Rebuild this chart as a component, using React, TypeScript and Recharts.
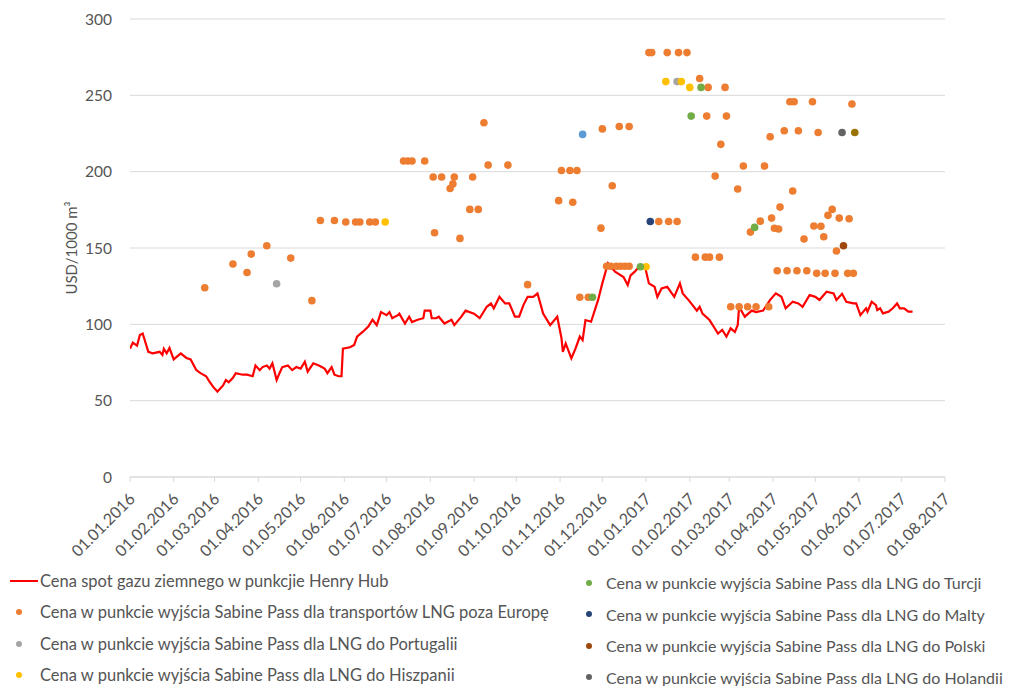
import React from "react";
import { ComposedChart, Line, Scatter, XAxis, YAxis, CartesianGrid } from "recharts";

const FONT = "Lato, 'Open Sans', sans-serif";
const TEXT = "#555555";

const monthTicks = [
  "01.01.2016", "01.02.2016", "01.03.2016", "01.04.2016", "01.05.2016", "01.06.2016",
  "01.07.2016", "01.08.2016", "01.09.2016", "01.10.2016", "01.11.2016", "01.12.2016",
  "01.01.2017", "01.02.2017", "01.03.2017", "01.04.2017", "01.05.2017", "01.06.2017",
  "01.07.2017", "01.08.2017",
];
const yTicks = [0, 50, 100, 150, 200, 250, 300];

// Henry Hub spot price, USD/1000 m3
const henryHub: [string, number][] = [
  ["01.01.2016", 84], ["03.01.2016", 88], ["06.01.2016", 86], ["08.01.2016", 93], ["10.01.2016", 94],
  ["14.01.2016", 82], ["17.01.2016", 81], ["22.01.2016", 82], ["24.01.2016", 80], ["25.01.2016", 84],
  ["27.01.2016", 81], ["29.01.2016", 84.5], ["01.02.2016", 77], ["06.02.2016", 81], ["10.02.2016", 78],
  ["13.02.2016", 77], ["17.02.2016", 70], ["20.02.2016", 68], ["24.02.2016", 66], ["26.02.2016", 63],
  ["29.02.2016", 59], ["03.03.2016", 56], ["07.03.2016", 60], ["09.03.2016", 63.5], ["11.03.2016", 62],
  ["14.03.2016", 65], ["16.03.2016", 68], ["21.03.2016", 67], ["24.03.2016", 67], ["28.03.2016", 66],
  ["30.03.2016", 73], ["02.04.2016", 70], ["04.04.2016", 72], ["07.04.2016", 73], ["09.04.2016", 71],
  ["11.04.2016", 74.5], ["14.04.2016", 63.5], ["16.04.2016", 68], ["18.04.2016", 72], ["22.04.2016", 73],
  ["25.04.2016", 70], ["28.04.2016", 72], ["01.05.2016", 71], ["04.05.2016", 75.5], ["06.05.2016", 69],
  ["10.05.2016", 74.5], ["14.05.2016", 73], ["18.05.2016", 71], ["20.05.2016", 68], ["23.05.2016", 72],
  ["25.05.2016", 67], ["28.05.2016", 66], ["30.05.2016", 66], ["31.05.2016", 84], ["05.06.2016", 85],
  ["08.06.2016", 86.5], ["10.06.2016", 92], ["14.06.2016", 95], ["18.06.2016", 98.5], ["21.06.2016", 103],
  ["24.06.2016", 99.5], ["27.06.2016", 108], ["01.07.2016", 106], ["03.07.2016", 108], ["05.07.2016", 104],
  ["09.07.2016", 106], ["10.07.2016", 107], ["14.07.2016", 100.5], ["17.07.2016", 105], ["19.07.2016", 101.5],
  ["23.07.2016", 103], ["27.07.2016", 104], ["28.07.2016", 109], ["01.08.2016", 109], ["02.08.2016", 104],
  ["05.08.2016", 104], ["07.08.2016", 105], ["11.08.2016", 100.5], ["16.08.2016", 103], ["18.08.2016", 99.5],
  ["23.08.2016", 105], ["26.08.2016", 109], ["01.09.2016", 107], ["05.09.2016", 104], ["10.09.2016", 111.5],
  ["13.09.2016", 113.7], ["15.09.2016", 110.5], ["19.09.2016", 118], ["23.09.2016", 113.7], ["26.09.2016", 113.7],
  ["30.09.2016", 105], ["03.10.2016", 105], ["06.10.2016", 112.6], ["09.10.2016", 118], ["13.10.2016", 118],
  ["16.10.2016", 120.3], ["20.10.2016", 107], ["25.10.2016", 99.5], ["30.10.2016", 105], ["02.11.2016", 91],
  ["03.11.2016", 82], ["05.11.2016", 87.5], ["09.11.2016", 77.7], ["12.11.2016", 84.3], ["15.11.2016", 92],
  ["17.11.2016", 89.7], ["19.11.2016", 102.8], ["23.11.2016", 101.7], ["28.11.2016", 116], ["01.12.2016", 127],
  ["05.12.2016", 140], ["10.12.2016", 134.5], ["16.12.2016", 131], ["19.12.2016", 125.7], ["21.12.2016", 132],
  ["24.12.2016", 134.5], ["27.12.2016", 137.7], ["31.12.2016", 138.8], ["03.01.2017", 126.8], ["07.01.2017", 124.6],
  ["09.01.2017", 118], ["12.01.2017", 123.5], ["16.01.2017", 124.6], ["21.01.2017", 118], ["25.01.2017", 126.8],
  ["27.01.2017", 120.3], ["31.01.2017", 116], ["02.02.2017", 113.7], ["06.02.2017", 109], ["08.02.2017", 111.5],
  ["10.02.2017", 107], ["15.02.2017", 102.8], ["18.02.2017", 98.4], ["21.02.2017", 94], ["24.02.2017", 96.3],
  ["27.02.2017", 92], ["02.03.2017", 97.4], ["05.03.2017", 95], ["07.03.2017", 99.5], ["08.03.2017", 111.5],
  ["12.03.2017", 105], ["17.03.2017", 109], ["20.03.2017", 108], ["25.03.2017", 109], ["30.03.2017", 116],
  ["03.04.2017", 120.3], ["07.04.2017", 118], ["10.04.2017", 110.5], ["15.04.2017", 114.8], ["19.04.2017", 113.7],
  ["22.04.2017", 111.5], ["27.04.2017", 119.2], ["01.05.2017", 118], ["04.05.2017", 116], ["09.05.2017", 121.4],
  ["14.05.2017", 120.3], ["16.05.2017", 116], ["20.05.2017", 120], ["23.05.2017", 114.8], ["28.05.2017", 113.7],
  ["30.05.2017", 113.7], ["02.06.2017", 106], ["06.06.2017", 110.5], ["07.06.2017", 108.3], ["10.06.2017", 114.8],
  ["13.06.2017", 112.6], ["14.06.2017", 109.4], ["16.06.2017", 110.5], ["18.06.2017", 107.2], ["22.06.2017", 108.3],
  ["25.06.2017", 110.5], ["28.06.2017", 113.7], ["30.06.2017", 110.5], ["03.07.2017", 110.5], ["06.07.2017", 108.3],
  ["09.07.2017", 108.3],
];

// Sabine Pass exit prices by destination
const outsideEurope: [string, number][] = [
  ["23.02.2016", 124], ["14.03.2016", 139.5], ["24.03.2016", 134], ["27.03.2016", 146], ["07.04.2016", 151.5],
  ["24.04.2016", 143.4], ["09.05.2016", 115.5], ["15.05.2016", 168], ["25.05.2016", 168], ["02.06.2016", 167],
  ["09.06.2016", 167], ["12.06.2016", 167], ["19.06.2016", 167], ["23.06.2016", 167], ["13.07.2016", 207],
  ["16.07.2016", 207], ["19.07.2016", 207], ["28.07.2016", 207], ["03.08.2016", 196.5], ["04.08.2016", 160],
  ["09.08.2016", 196.5], ["15.08.2016", 189], ["17.08.2016", 192], ["18.08.2016", 196.5], ["22.08.2016", 156.3],
  ["29.08.2016", 175.3], ["31.08.2016", 196.5], ["04.09.2016", 175.3], ["08.09.2016", 232], ["11.09.2016", 204.3],
  ["25.09.2016", 204.3], ["09.10.2016", 126], ["31.10.2016", 181], ["02.11.2016", 200.8], ["08.11.2016", 200.8],
  ["10.11.2016", 180], ["13.11.2016", 200.8], ["15.11.2016", 117.7], ["21.11.2016", 117.7], ["30.11.2016", 163],
  ["01.12.2016", 228], ["04.12.2016", 138], ["07.12.2016", 138], ["08.12.2016", 190.8], ["11.12.2016", 138],
  ["13.12.2016", 229.6], ["14.12.2016", 138], ["17.12.2016", 138], ["20.12.2016", 138], ["20.12.2016", 229.6],
  ["03.01.2017", 278], ["05.01.2017", 278], ["10.01.2017", 167.4], ["16.01.2017", 278], ["17.01.2017", 167.4],
  ["23.01.2017", 167.4], ["24.01.2017", 278], ["30.01.2017", 278], ["05.02.2017", 144], ["08.02.2017", 261],
  ["12.02.2017", 144], ["13.02.2017", 236.4], ["14.02.2017", 255.2], ["15.02.2017", 144], ["19.02.2017", 197.1],
  ["22.02.2017", 144], ["23.02.2017", 217.9], ["26.02.2017", 255.2], ["27.02.2017", 236.4], ["02.03.2017", 111.5],
  ["07.03.2017", 188.6], ["08.03.2017", 111.5], ["11.03.2017", 203.7], ["14.03.2017", 111.5], ["16.03.2017", 160.4],
  ["20.03.2017", 111.5], ["23.03.2017", 167.6], ["26.03.2017", 203.7], ["29.03.2017", 111.5], ["30.03.2017", 222.9],
  ["31.03.2017", 169.6], ["02.04.2017", 162.9], ["04.04.2017", 135.1], ["05.04.2017", 162.4], ["06.04.2017", 176.8],
  ["09.04.2017", 226.8], ["11.04.2017", 135.1], ["13.04.2017", 245.8], ["15.04.2017", 187.3], ["16.04.2017", 245.8],
  ["18.04.2017", 135.1], ["19.04.2017", 226.8], ["23.04.2017", 155.9], ["25.04.2017", 135.1], ["29.04.2017", 245.8],
  ["30.04.2017", 164.4], ["02.05.2017", 133.4], ["03.05.2017", 225.7], ["05.05.2017", 164.2], ["07.05.2017", 157.4],
  ["08.05.2017", 133.4], ["10.05.2017", 171.4], ["13.05.2017", 175.3], ["15.05.2017", 133.4], ["16.05.2017", 148],
  ["18.05.2017", 169.6], ["24.05.2017", 133.4], ["25.05.2017", 169.2], ["27.05.2017", 244.3], ["28.05.2017", 133.4],
];
const portugal: [string, number][] = [["14.04.2016", 126.6], ["23.01.2017", 259]];
const spain: [string, number][] = [
  ["30.06.2016", 167], ["01.01.2017", 137.7], ["15.01.2017", 259], ["26.01.2017", 259], ["01.02.2017", 255.2],
];
const unlabelledBlue: [string, number][] = [["17.11.2016", 224.4]];
const turkey: [string, number][] = [
  ["24.11.2016", 117.7], ["28.12.2016", 137.7], ["02.02.2017", 236.4], ["09.02.2017", 255.2], ["19.03.2017", 163.5],
];
const malta: [string, number][] = [["04.01.2017", 167.4]];
const poland: [string, number][] = [["21.05.2017", 151.5]];
const netherlands: [string, number][] = [["20.05.2017", 225.7]];
const unlabelledOlive: [string, number][] = [["29.05.2017", 225.7]];

const toTime = (s: string) => {
  const [d, m, y] = s.split(".").map(Number);
  return Date.UTC(y, m - 1, d);
};
const rows = (list: [string, number][]) => list.map(([d, v]) => ({ t: toTime(d), v }));

type Series = { name: string; color: string; data: [string, number][]; legend: boolean };

const LINE_NAME = "Cena spot gazu ziemnego w punkcjie Henry Hub";
const LINE_COLOR = "#FF0000";

const scatters: Series[] = [
  { name: "Cena w punkcie wyjścia Sabine Pass dla transportów LNG poza Europę", color: "#ED7D31", data: outsideEurope, legend: true },
  { name: "Cena w punkcie wyjścia Sabine Pass dla LNG do Portugalii", color: "#A5A5A5", data: portugal, legend: true },
  { name: "Cena w punkcie wyjścia Sabine Pass dla LNG do Hiszpanii", color: "#FFC000", data: spain, legend: true },
  { name: "blue", color: "#5B9BD5", data: unlabelledBlue, legend: false },
  { name: "Cena w punkcie wyjścia Sabine Pass dla LNG do Turcji", color: "#70AD47", data: turkey, legend: true },
  { name: "Cena w punkcie wyjścia Sabine Pass dla LNG do Malty", color: "#264478", data: malta, legend: true },
  { name: "Cena w punkcie wyjścia Sabine Pass dla LNG do Polski", color: "#9E480E", data: poland, legend: true },
  { name: "Cena w punkcie wyjścia Sabine Pass dla LNG do Holandii", color: "#636363", data: netherlands, legend: true },
  { name: "olive", color: "#997300", data: unlabelledOlive, legend: false },
];

const dot = (color: string) => (p: any) => <circle cx={p.cx} cy={p.cy} r={3.8} fill={color} />;

function XTick({ x, y, payload }: any) {
  const d = new Date(payload.value);
  const label = `01.${String(d.getUTCMonth() + 1).padStart(2, "0")}.${d.getUTCFullYear()}`;
  return (
    <g transform={`translate(${x + 6},${y + 16})`}>
      <text textAnchor="end" transform="rotate(-45)" fontSize={16} fontFamily={FONT} fill={TEXT}>
        {label}
      </text>
    </g>
  );
}

function LegendItem({ s, line, markerWidth, dotLeft }: { s: { name: string; color: string }; line?: boolean; markerWidth: number; dotLeft: number }) {
  return (
    <div style={{ display: "flex", alignItems: "center", height: 31.5, whiteSpace: "nowrap" }}>
      <span style={{ width: markerWidth, position: "relative", height: 10, flex: "none" }}>
        {line ? (
          <span style={{ position: "absolute", left: 0, top: 4, width: 28, height: 2.5, background: s.color }} />
        ) : (
          <span style={{ position: "absolute", left: dotLeft - 3, top: 2, width: 6, height: 6, borderRadius: 3, background: s.color }} />
        )}
      </span>
      <span>{s.name}</span>
    </div>
  );
}

export default function App() {
  const legendItems = scatters.filter((s) => s.legend);
  const left = legendItems.slice(0, 3);
  const right = legendItems.slice(3);
  return (
    <div style={{ position: "absolute", left: 0, top: 0, width: 1011, height: 686, background: "#fff", fontFamily: FONT, overflow: "hidden" }}>
      <ComposedChart width={1011} height={560} margin={{ top: 19, right: 66, bottom: 0, left: 0 }}>
        <CartesianGrid vertical={false} stroke="#D9D9D9" />
        <XAxis
          type="number"
          dataKey="t"
          domain={[toTime(monthTicks[0]), toTime(monthTicks[monthTicks.length - 1])]}
          ticks={monthTicks.map(toTime)}
          height={83}
          stroke="#D9D9D9"
          tickSize={5}
          tick={<XTick />}
          interval={0}
          allowDataOverflow
        />
        <YAxis
          type="number"
          dataKey="v"
          domain={[0, 300]}
          ticks={yTicks}
          width={130}
          axisLine={false}
          tickLine={false}
          tickSize={0}
          tickMargin={18}
          tick={{ fontSize: 15.5, fontFamily: FONT, fill: TEXT }}
          label={{
            content: () => (
              <text x={77} y={248} transform="rotate(-90, 77, 248)" textAnchor="middle" fontSize={15} fontFamily={FONT} fill={TEXT}>
                USD/1000 m³
              </text>
            ),
          }}
        />
        <Line
          data={rows(henryHub)}
          dataKey="v"
          stroke={LINE_COLOR}
          strokeWidth={2.2}
          dot={false}
          type="linear"
          isAnimationActive={false}
        />
        {scatters.map((s) => (
          <Scatter key={s.name} name={s.name} data={rows(s.data)} fill={s.color} shape={dot(s.color)} isAnimationActive={false} />
        ))}
      </ComposedChart>
      <div style={{ position: "absolute", left: 10, top: 565, fontSize: 16.5, color: TEXT }}>
        <LegendItem s={{ name: LINE_NAME, color: LINE_COLOR }} line markerWidth={30} dotLeft={0} />
        {left.map((s) => (
          <LegendItem key={s.name} s={s} markerWidth={30} dotLeft={9} />
        ))}
      </div>
      <div style={{ position: "absolute", left: 575, top: 567, fontSize: 16, color: TEXT }}>
        {right.map((s) => (
          <LegendItem key={s.name} s={s} markerWidth={31} dotLeft={14} />
        ))}
      </div>
    </div>
  );
}
